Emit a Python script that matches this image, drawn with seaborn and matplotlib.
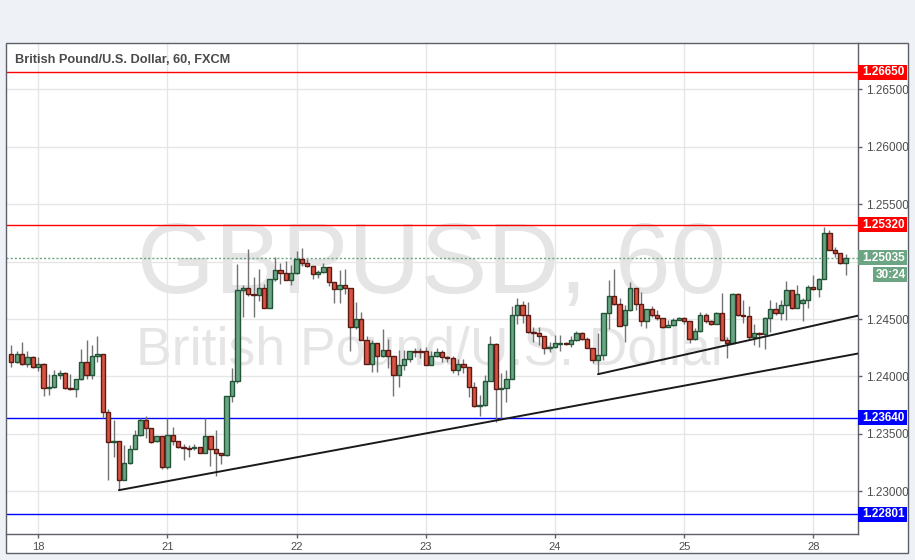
import numpy as np
import matplotlib
matplotlib.use("Agg")
import matplotlib.pyplot as plt
import matplotlib.transforms as mtransforms
from matplotlib.patches import Rectangle
import seaborn as sns

# ---------------- data (hourly GBP/USD candles) ----------------
opens = [1.2420, 1.2413, 1.2420, 1.2411, 1.2417, 1.2408, 1.2411, 1.2390, 1.2391, 1.2401,
         1.2403, 1.2390, 1.2389, 1.2398, 1.2413, 1.2401, 1.2418, 1.2420, 1.2369, 1.2343,
         1.2344, 1.2310, 1.2325, 1.2337, 1.2349, 1.2362, 1.2355, 1.2344, 1.2348, 1.2321,
         1.2349, 1.2344, 1.2339, 1.2338, 1.2338, 1.2339, 1.2333, 1.2348, 1.2337, 1.2333,
         1.2332, 1.2383, 1.2396, 1.2475, 1.2477, 1.2472, 1.2471, 1.2477, 1.2460, 1.2485,
         1.2493, 1.2490, 1.2484, 1.2490, 1.2502, 1.2499, 1.2496, 1.2489, 1.2491, 1.2495,
         1.2482, 1.2476, 1.2480, 1.2477, 1.2443, 1.2450, 1.2432, 1.2411, 1.2429, 1.2418,
         1.2423, 1.2418, 1.2401, 1.2410, 1.2415, 1.2422, 1.2422, 1.2422, 1.2410, 1.2418,
         1.2421, 1.2417, 1.2416, 1.2406, 1.2411, 1.2408, 1.2391, 1.2374, 1.2375, 1.2396,
         1.2428, 1.2389, 1.2390, 1.2398, 1.2454, 1.2462, 1.2454, 1.2439, 1.2438, 1.2435,
         1.2425, 1.2426, 1.2428, 1.2429, 1.2428, 1.2432, 1.2438, 1.2433, 1.2425, 1.2414,
         1.2419, 1.2455, 1.2470, 1.2463, 1.2445, 1.2458, 1.2477, 1.2463, 1.2448, 1.2459,
         1.2454, 1.2451, 1.2443, 1.2445, 1.2449, 1.2451, 1.2448, 1.2433, 1.2440, 1.2454,
         1.2448, 1.2446, 1.2455, 1.2432, 1.2429, 1.2472, 1.2454, 1.2453, 1.2434, 1.2438,
         1.2437, 1.2451, 1.2459, 1.2455, 1.2462, 1.2475, 1.2460, 1.2464, 1.2467, 1.2478,
         1.2476, 1.2485, 1.2525, 1.2510, 1.2508, 1.2499]
highs = [1.2427, 1.2422, 1.2430, 1.2422, 1.2418, 1.2417, 1.2412, 1.2402, 1.2406, 1.2406,
         1.2404, 1.2402, 1.2398, 1.2424, 1.2432, 1.2427, 1.2435, 1.2420, 1.2372, 1.2362,
         1.2344, 1.2340, 1.2340, 1.2353, 1.2364, 1.2366, 1.2355, 1.2348, 1.2348, 1.2364,
         1.2356, 1.2344, 1.2341, 1.2340, 1.2341, 1.2339, 1.2364, 1.2348, 1.2353, 1.2333,
         1.2383, 1.2407, 1.2498, 1.2480, 1.2511, 1.2487, 1.2494, 1.2481, 1.2485, 1.2504,
         1.2499, 1.2501, 1.2497, 1.2509, 1.2512, 1.2502, 1.2496, 1.2493, 1.2499, 1.2495,
         1.2482, 1.2493, 1.2494, 1.2477, 1.2465, 1.2456, 1.2435, 1.2432, 1.2429, 1.2441,
         1.2433, 1.2418, 1.2423, 1.2423, 1.2422, 1.2425, 1.2425, 1.2426, 1.2422, 1.2425,
         1.2423, 1.2418, 1.2418, 1.2415, 1.2415, 1.2408, 1.2395, 1.2384, 1.2401, 1.2435,
         1.2429, 1.2403, 1.2406, 1.2461, 1.2468, 1.2466, 1.2465, 1.2443, 1.2443, 1.2435,
         1.2430, 1.2436, 1.2436, 1.2430, 1.2435, 1.2440, 1.2439, 1.2434, 1.2425, 1.2438,
         1.2455, 1.2484, 1.2494, 1.2468, 1.2462, 1.2482, 1.2477, 1.2474, 1.2459, 1.2461,
         1.2458, 1.2451, 1.2449, 1.2451, 1.2452, 1.2452, 1.2448, 1.2442, 1.2456, 1.2455,
         1.2449, 1.2456, 1.2473, 1.2434, 1.2473, 1.2473, 1.2467, 1.2461, 1.2446, 1.2439,
         1.2452, 1.2467, 1.2465, 1.2467, 1.2483, 1.2475, 1.2480, 1.2468, 1.2480, 1.2488,
         1.2486, 1.2530, 1.2528, 1.2513, 1.2508, 1.2507]
lows = [1.2408, 1.2412, 1.2410, 1.2408, 1.2407, 1.2405, 1.2383, 1.2384, 1.2390, 1.2398,
        1.2389, 1.2388, 1.2382, 1.2397, 1.2398, 1.2398, 1.2413, 1.2364, 1.2310, 1.2330,
        1.2301, 1.2310, 1.2324, 1.2337, 1.2348, 1.2346, 1.2342, 1.2343, 1.2319, 1.2319,
        1.2340, 1.2338, 1.2327, 1.2330, 1.2336, 1.2333, 1.2333, 1.2322, 1.2313, 1.2324,
        1.2331, 1.2378, 1.2394, 1.2452, 1.2470, 1.2452, 1.2466, 1.2460, 1.2460, 1.2483,
        1.2481, 1.2484, 1.2480, 1.2489, 1.2496, 1.2495, 1.2485, 1.2486, 1.2490, 1.2479,
        1.2464, 1.2464, 1.2472, 1.2422, 1.2441, 1.2432, 1.2411, 1.2404, 1.2404, 1.2417,
        1.2407, 1.2383, 1.2391, 1.2406, 1.2413, 1.2417, 1.2416, 1.2410, 1.2410, 1.2417,
        1.2413, 1.2413, 1.2403, 1.2401, 1.2403, 1.2382, 1.2373, 1.2366, 1.2374, 1.2396,
        1.2360, 1.2363, 1.2378, 1.2398, 1.2446, 1.2447, 1.2438, 1.2430, 1.2427, 1.2420,
        1.2421, 1.2425, 1.2422, 1.2427, 1.2426, 1.2431, 1.2432, 1.2425, 1.2412, 1.2402,
        1.2414, 1.2441, 1.2462, 1.2444, 1.2430, 1.2457, 1.2458, 1.2444, 1.2442, 1.2452,
        1.2449, 1.2442, 1.2443, 1.2444, 1.2449, 1.2446, 1.2429, 1.2432, 1.2439, 1.2447,
        1.2445, 1.2446, 1.2431, 1.2416, 1.2429, 1.2453, 1.2447, 1.2433, 1.2427, 1.2426,
        1.2424, 1.2439, 1.2454, 1.2449, 1.2449, 1.2459, 1.2460, 1.2448, 1.2460, 1.2475,
        1.2469, 1.2485, 1.2510, 1.2504, 1.2498, 1.2488]
closes = [1.2413, 1.2420, 1.2411, 1.2417, 1.2408, 1.2411, 1.2390, 1.2391, 1.2401, 1.2403,
          1.2390, 1.2389, 1.2398, 1.2413, 1.2401, 1.2418, 1.2420, 1.2369, 1.2343, 1.2344,
          1.2310, 1.2325, 1.2337, 1.2349, 1.2362, 1.2355, 1.2343, 1.2348, 1.2321, 1.2349,
          1.2344, 1.2339, 1.2338, 1.2337, 1.2339, 1.2333, 1.2348, 1.2337, 1.2333, 1.2332,
          1.2383, 1.2396, 1.2475, 1.2477, 1.2472, 1.2471, 1.2477, 1.2460, 1.2485, 1.2493,
          1.2490, 1.2484, 1.2490, 1.2502, 1.2499, 1.2496, 1.2489, 1.2491, 1.2495, 1.2482,
          1.2476, 1.2480, 1.2477, 1.2443, 1.2450, 1.2432, 1.2411, 1.2429, 1.2418, 1.2423,
          1.2418, 1.2401, 1.2410, 1.2415, 1.2422, 1.2421, 1.2421, 1.2410, 1.2418, 1.2421,
          1.2417, 1.2416, 1.2406, 1.2411, 1.2408, 1.2391, 1.2374, 1.2375, 1.2396, 1.2428,
          1.2389, 1.2390, 1.2398, 1.2454, 1.2462, 1.2454, 1.2439, 1.2438, 1.2435, 1.2425,
          1.2426, 1.2429, 1.2429, 1.2428, 1.2432, 1.2438, 1.2433, 1.2425, 1.2414, 1.2419,
          1.2455, 1.2470, 1.2463, 1.2444, 1.2458, 1.2477, 1.2463, 1.2448, 1.2459, 1.2454,
          1.2451, 1.2443, 1.2445, 1.2449, 1.2451, 1.2448, 1.2433, 1.2440, 1.2454, 1.2448,
          1.2446, 1.2455, 1.2432, 1.2429, 1.2472, 1.2454, 1.2453, 1.2434, 1.2438, 1.2437,
          1.2451, 1.2459, 1.2455, 1.2462, 1.2475, 1.2460, 1.2472, 1.2467, 1.2478, 1.2476,
          1.2485, 1.2525, 1.2510, 1.2508, 1.2499, 1.25035]

day_labels = ["18", "21", "22", "23", "24", "25", "28"]
day_first_bar = [5, 29, 53, 77, 101, 125, 149]

level_prices = [1.26650, 1.25320, 1.23640, 1.22801]
level_colors = ["#ff0000", "#ff0000", "#0000ff", "#0000ff"]
last_price = 1.25035
countdown_text = "30:24"

trend_a_bars = [20, 157.3]
trend_a_prices = [1.2301, 1.2420]
trend_b_bars = [109, 157.3]
trend_b_prices = [1.2402, 1.2453]

y_tick_values = [1.230, 1.235, 1.240, 1.245, 1.250, 1.255, 1.260, 1.265]

title_text = "British Pound/U.S. Dollar, 60, FXCM"
watermark_big = "GBPUSD, 60"
watermark_small = "British Pound/U.S. Dollar"

# ---------------- style ----------------
sns.set_theme(style="white")
plt.rcParams['font.family'] = ['Liberation Sans', 'DejaVu Sans']

W, H = 915, 560
fig = plt.figure(figsize=(W / 100, H / 100), dpi=100, facecolor="#eef1f5")

# chart panel (white fill behind, frame on top)
px_l, px_r, px_t, px_b = 6, 908, 43, 553
panel_xy = (px_l / W, 1 - px_b / H)
panel_wh = ((px_r - px_l) / W, (px_b - px_t) / H)
fig.patches.append(Rectangle(panel_xy, *panel_wh, transform=fig.transFigure,
                             facecolor="white", edgecolor="none", zorder=-10))

ax_l, ax_r, ax_t, ax_b = 6, 858, 43, 534
ax = fig.add_axes([ax_l / W, 1 - ax_b / H, (ax_r - ax_l) / W, (ax_b - ax_t) / H])
ax.set_zorder(1)
ax.set_facecolor("white")

o = np.array(opens)
h = np.array(highs)
lo = np.array(lows)
c = np.array(closes)
x = np.arange(len(o))

XL = (-0.98, 157.3)
YL = (1.22628, 1.26905)
ax.set_xlim(*XL)
ax.set_ylim(*YL)
data_per_px = (YL[1] - YL[0]) / (ax_b - ax_t)
ax_w_px = ax_r - ax_l

# watermark
ax.text(0.5, 1 - (293 - ax_t) / (ax_b - ax_t), watermark_big, transform=ax.transAxes,
        ha="center", va="baseline", fontsize=72, color=(0, 0, 0, 0.1), zorder=0.2)
ax.text(0.5, 1 - (364 - ax_t) / (ax_b - ax_t), watermark_small, transform=ax.transAxes,
        ha="center", va="baseline", fontsize=38.5, color=(0, 0, 0, 0.1), zorder=0.2)

# grid & ticks
ax.set_axisbelow(True)
ax.set_xticks(day_first_bar)
ax.set_xticklabels(day_labels)
ax.set_yticks(y_tick_values)
ax.set_yticklabels([f"{v:.5f}" if abs(v - 1.25) > 1e-9 else "" for v in y_tick_values])
ax.grid(True, color="#e6e6e6", lw=1.0)
ax.yaxis.tick_right()
ax.tick_params(axis="y", which="both", right=True, left=False, length=3, width=1,
               color="#5d606b", pad=2.5, labelsize=8.5, labelcolor="#4d4d4d")
ax.tick_params(axis="x", bottom=True, length=3, width=1, color="#5d606b", pad=2.5,
               labelsize=8, labelcolor="#4d4d4d")
for side in ["left", "top"]:
    ax.spines[side].set_visible(False)
for side in ["right", "bottom"]:
    ax.spines[side].set_color("#5d606b")
    ax.spines[side].set_linewidth(1.0)

# horizontal levels
for p, col in zip(level_prices, level_colors):
    ax.axhline(p, color=col, lw=1.0, zorder=2)
ax.axhline(last_price, color="#6ba583", lw=1.0, ls=(0, (1.5, 1.5)), zorder=2)

# trend lines via seaborn
sns.lineplot(x=trend_a_bars, y=trend_a_prices, ax=ax, color="#1a1a1a", lw=1.4, zorder=5)
sns.lineplot(x=trend_b_bars, y=trend_b_prices, ax=ax, color="#1a1a1a", lw=1.4, zorder=5)

# candles
up = c >= o
bottom = np.minimum(o, c)
height = np.maximum(np.abs(c - o), 0.00003)
ax.vlines(x, lo, h, color="#737375", lw=1.0, zorder=3)
ax.bar(x[up], height[up], bottom=bottom[up], width=0.8, color="#6ba583",
       edgecolor="#225437", lw=1.0, zorder=4)
ax.bar(x[~up], height[~up], bottom=bottom[~up], width=0.8, color="#d75442",
       edgecolor="#5b1a13", lw=1.0, zorder=4)
ax.set_xlim(*XL)
ax.set_ylim(*YL)

# price tags on the right axis
trans = mtransforms.blended_transform_factory(ax.transAxes, ax.transData)
tag_h = 15 * data_per_px
tag_w = 49 / ax_w_px


def tag(price, col, text, x0=1.0, w=tag_w, yc=None):
    yc = price if yc is None else yc
    ax.add_patch(Rectangle((x0, yc - tag_h / 2), w, tag_h, transform=trans,
                           facecolor=col, edgecolor="none", clip_on=False, zorder=10))
    ax.text(x0 + w / 2 + 1 / ax_w_px, yc, text, transform=trans, ha="center", va="center",
            color="white", fontsize=8.5, fontweight="bold", clip_on=False, zorder=11)


for p, col in zip(level_prices, level_colors):
    tag(p, col, f"{p:.5f}")
tag(last_price, "#6ba583", f"{last_price:.5f}")
tag(last_price, "#6ba583", countdown_text, x0=1.0 + 15 / ax_w_px, w=34 / ax_w_px,
    yc=last_price - 17 * data_per_px)

# title
ax.text((15 - ax_l) / ax_w_px, 1 - (60 - ax_t) / (ax_b - ax_t), title_text,
        transform=ax.transAxes, ha="left", va="center", fontsize=9.2,
        fontweight="bold", color="#4a4a4a", zorder=12)

ax.set_xlabel("")
ax.set_ylabel("")

# frame on top
fig.patches.append(Rectangle(panel_xy, *panel_wh, transform=fig.transFigure,
                             facecolor="none", edgecolor="#5d606b", lw=1.0, zorder=10))

fig.savefig("out.png", dpi=100, facecolor=fig.get_facecolor())
